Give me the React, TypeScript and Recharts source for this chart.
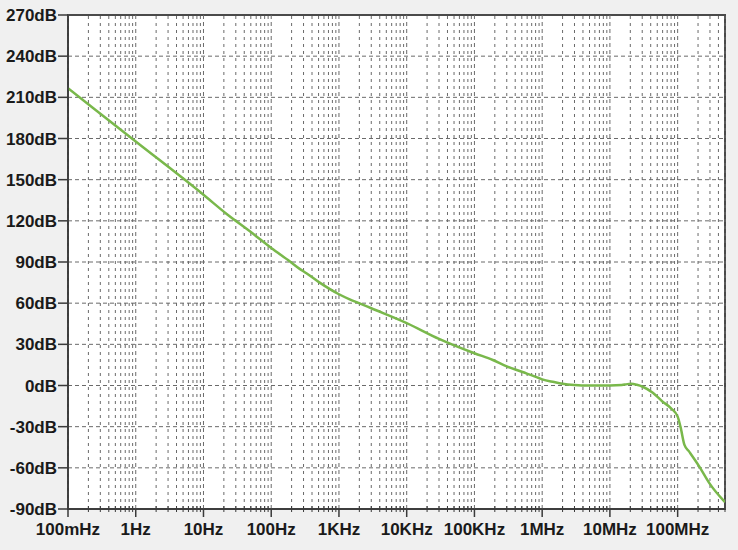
import { LineChart, Line, XAxis, YAxis, CartesianGrid, ReferenceLine, ReferenceArea } from "recharts";

// frequency response (Hz / dB)
const freqHz = [
  0.1, 1, 10, 22, 50, 100, 187, 263, 331, 500, 1e3, 1.44e3, 2.1e3, 3e3, 1e4, 3e4, 1e5,
  1.87e5, 3e5, 5e5, 9.1e5, 1e6, 1.5e6, 2e6, 3e6, 5e6, 1e7, 1.5e7, 1.8e7, 2.06e7, 2.5e7, 3.05e7,
  4.3e7, 6e7, 8e7, 1e8, 1.1e8, 1.26e8, 1.48e8, 2.09e8, 2.95e8, 5e8,
];
const gainDb = [
  216.6, 177.8, 139, 125, 111.8, 100.2, 90.5, 85, 81.8, 75.5, 66.5, 62.8, 59.5, 56.3, 45.5, 34, 23.5,
  18.6, 14, 10, 5.3, 4.5, 2.5, 1.3, 0.4, 0, 0, 0.3, 1.0, 1.2, 0.5, -0.9,
  -5.3, -11.8, -16.6, -22.7, -30, -43.3, -48.2, -59.1, -71.3, -85,
];

const majorFreqs = [0.1, 1, 10, 100, 1e3, 1e4, 1e5, 1e6, 1e7, 1e8];
const majorLabels = ["100mHz", "1Hz", "10Hz", "100Hz", "1KHz", "10KHz", "100KHz", "1MHz", "10MHz", "100MHz"];
const minorMultipliers = [2, 3, 4, 5, 6, 7, 8, 9];
const dbTicks = [-90, -60, -30, 0, 30, 60, 90, 120, 150, 180, 210, 240, 270];

const fMin = 0.1;
const fMax = 5e8;

const minorFreqs: number[] = [];
majorFreqs.forEach((d) => {
  minorMultipliers.forEach((m) => {
    const v = d * m;
    if (v < fMax * 1.0001) minorFreqs.push(v);
  });
});
const allFreqTicks = [...majorFreqs, ...minorFreqs].sort((a, b) => a - b);

const data = freqHz.map((f, i) => ({ f, db: gainDb[i] }));

const FONT = "'Liberation Sans', Arial, sans-serif";
const TEXT = "#1a1a1a";
const AXIS = "#3a3a3a";
const GRID = "#6a6a6a";

function FreqTick(props: any) {
  const { x, y, payload } = props;
  const idx = majorFreqs.findIndex((m) => Math.abs(m - payload.value) / m < 1e-6);
  if (idx < 0) {
    return <line x1={x} x2={x} y1={y - 3} y2={y + 3} stroke={AXIS} strokeWidth={1} />;
  }
  return (
    <g>
      <line x1={x} x2={x} y1={y} y2={y + 8} stroke={AXIS} strokeWidth={1.5} />
      <text x={x} y={y + 26} textAnchor="middle" fill={TEXT} fontSize={17} fontWeight="bold" fontFamily={FONT}>
        {majorLabels[idx]}
      </text>
    </g>
  );
}

export default function App() {
  return (
    <div style={{ position: "absolute", left: 0, top: 0, width: 738, height: 550, background: "#f0f0f0" }}>
      <LineChart width={738} height={550} data={data} margin={{ top: 15, right: 13, bottom: 0, left: 0 }}>
        <CartesianGrid vertical={false} stroke={GRID} strokeDasharray="4 3" fill="#ffffff" />
        {minorFreqs.map((v) => (
          <ReferenceLine key={"mn" + v} x={v} stroke={GRID} strokeDasharray="3 4" strokeWidth={1} />
        ))}
        {majorFreqs.map((v) => (
          <ReferenceLine key={"mj" + v} x={v} stroke={GRID} strokeDasharray="4 3" strokeWidth={1} />
        ))}
        <XAxis
          dataKey="f"
          type="number"
          scale="log"
          domain={[fMin, fMax]}
          allowDataOverflow
          ticks={allFreqTicks}
          interval={0}
          tick={<FreqTick />}
          tickLine={false}
          tickSize={0}
          tickMargin={0}
          height={41}
          axisLine={{ stroke: AXIS, strokeWidth: 1.5 }}
        />
        <YAxis
          type="number"
          domain={[-90, 270]}
          ticks={dbTicks}
          interval={0}
          width={68}
          tickSize={10}
          tickMargin={1}
          tickFormatter={(v: number) => `${v}dB`}
          tick={{ fill: TEXT, fontSize: 17, fontWeight: "bold", fontFamily: FONT }}
          tickLine={{ stroke: AXIS, strokeWidth: 1.5 }}
          axisLine={{ stroke: AXIS, strokeWidth: 1.5 }}
        />
        <ReferenceArea x1={fMin} x2={fMax} y1={-90} y2={270} fill="none" stroke="#4a4a4a" strokeWidth={2} />
        <Line
          type="monotone"
          dataKey="db"
          stroke="#79b84b"
          strokeWidth={2.5}
          dot={false}
          isAnimationActive={false}
        />
      </LineChart>
    </div>
  );
}
